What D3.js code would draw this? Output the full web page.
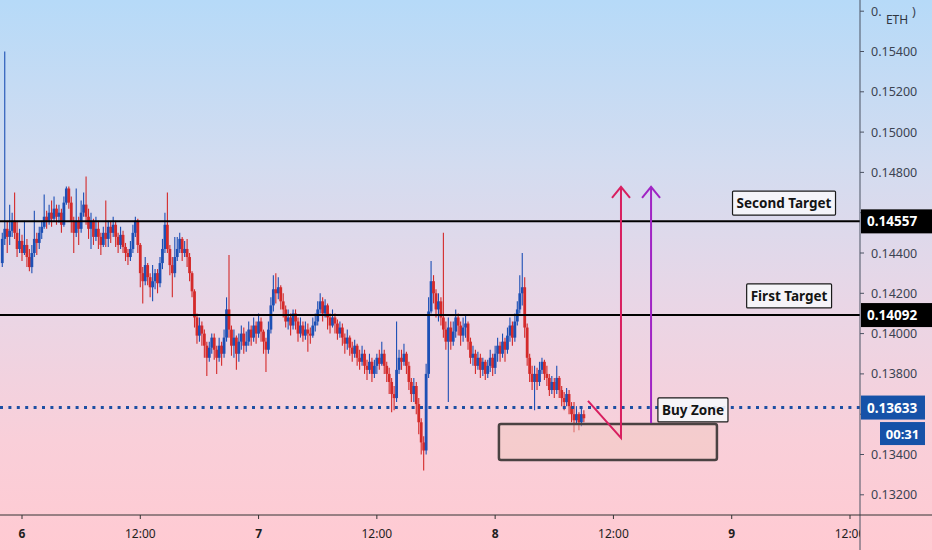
<!DOCTYPE html>
<html><head><meta charset="utf-8">
<script src="https://cdn.jsdelivr.net/npm/d3@7"></script>
<style>body{margin:0;overflow:hidden;background:#fff} svg{display:block}</style>
</head><body>
<svg id="c" width="932" height="550"></svg>
<script>
// ---------- DATA ----------
// 15-minute candles, prices in units of 0.00001
const candleStartUTC = [2021, 1, 5, 22, 0]; // first bar time
const candleMinutes = 15;
const firstOpenE5 = 14350;
const closeE5 = [14470,14520,14480,14510,14560,14500,14420,14460,14400,14440,14380,14330,14400,14470,14450,14500,14530,14580,14560,14600,
14570,14620,14580,14600,14540,14650,14720,14650,14560,14500,14560,14520,14600,14640,14580,14520,14560,14480,14520,14480,
14440,14500,14470,14530,14500,14540,14480,14440,14490,14430,14400,14380,14420,14500,14560,14440,14300,14260,14340,14280,
14230,14260,14300,14250,14350,14420,14540,14420,14340,14300,14380,14420,14470,14400,14420,14380,14300,14210,14080,13990,
14040,14000,13940,13880,13930,13980,13920,13880,13940,13900,13980,14120,14020,13940,13980,13900,13960,14000,13940,13960,
14020,13980,14040,14000,14060,14010,13960,13920,14020,14140,14220,14200,14230,14160,14120,14060,14080,14040,14100,14060,
14000,14040,13990,14020,14000,13990,14040,14060,14120,14160,14100,14140,14080,14040,14080,14050,14000,14030,13980,13950,
13980,13930,13900,13940,13880,13860,13900,13840,13820,13860,13800,13840,13880,13850,13900,13840,13800,13760,13700,13680,
13820,13880,13860,13900,13840,13760,13700,13740,13650,13560,13460,13420,13800,14110,14260,14200,14120,14160,14080,14020,
13960,14030,13960,14010,14080,14040,13990,14030,14050,13960,13880,13900,13840,13880,13820,13860,13800,13840,13880,13830,
13900,13940,13900,13960,13920,13990,14040,13980,14060,14120,14200,14230,14030,13880,13800,13760,13800,13760,13820,13860,
13800,13780,13720,13760,13720,13780,13720,13680,13660,13700,13640,13600,13570,13600,13560,13600,13580];
const highE5 = [14500,15400,14560,14640,14600,14700,14560,14520,14490,14560,14470,14420,14440,14610,14500,14530,14560,14690,14610,14640,
14660,14680,14640,14640,14620,14680,14730,14730,14680,14580,14720,14580,14660,14700,14780,14620,14600,14570,14580,14560,
14500,14530,14660,14560,14560,14580,14560,14500,14530,14510,14450,14420,14460,14540,14580,14570,14450,14330,14380,14350,
14300,14340,14320,14320,14380,14470,14600,14700,14440,14380,14480,14480,14500,14480,14460,14470,14400,14310,14220,14100,
14080,14060,14020,13960,13960,14000,14000,13940,13980,13960,14020,14180,14390,14040,14020,13990,14000,14040,14030,14010,
14060,14040,14080,14060,14100,14080,14020,13980,14060,14180,14290,14300,14280,14240,14200,14140,14120,14100,14120,14120,
14080,14080,14060,14060,14050,14030,14080,14100,14160,14200,14180,14170,14150,14100,14120,14100,14070,14060,14050,14000,
14020,13990,13960,13970,13950,13920,13940,13920,13870,13900,13880,13870,13900,13920,13960,13920,13860,13830,13780,13740,
14060,13920,13920,13950,13910,13860,13780,13780,13760,13680,13580,13490,13850,14180,14360,14290,14220,14200,14180,14500,
14060,14080,14060,14060,14120,14100,14060,14080,14090,14060,13980,13940,13920,13910,13900,13880,13870,13870,13920,13900,
13940,13980,13960,14000,13980,14030,14080,14060,14100,14160,14290,14400,14280,14050,13900,13840,13840,13830,13860,13880,
13870,13840,13800,13790,13780,13840,13790,13740,13710,13730,13720,13660,13660,13640,13610,13630,13620];
const lowE5 = [14330,14440,14400,14440,14480,14470,14380,14400,14360,14390,14330,14310,14300,14380,14390,14420,14470,14520,14520,14540,
14530,14560,14540,14550,14500,14530,14640,14620,14500,14400,14480,14440,14500,14580,14540,14470,14420,14440,14460,14420,
14390,14430,14430,14430,14450,14480,14430,14400,14420,14400,14360,14340,14360,14400,14480,14400,14230,14150,14240,14240,
14180,14160,14220,14200,14230,14320,14400,14400,14290,14180,14280,14360,14400,14360,14380,14330,14260,14180,14030,13950,
13960,13940,13880,13790,13860,13900,13870,13800,13860,13840,13880,13960,13980,13890,13880,13820,13860,13920,13900,13910,
13940,13940,13960,13950,13980,13960,13900,13810,13900,14000,14110,14150,14170,14120,14080,14030,14020,13990,14020,14020,
13960,13980,13960,13970,13910,13950,13980,14010,14040,14100,14060,14080,14020,14000,14030,14000,13970,13980,13940,13900,
13920,13890,13860,13880,13840,13820,13840,13800,13770,13800,13760,13780,13800,13820,13840,13800,13760,13700,13610,13620,
13660,13800,13820,13840,13800,13720,13660,13660,13600,13500,13400,13320,13400,13780,14100,14150,14080,14060,14040,13980,
13920,13660,13920,13940,13980,13990,13940,13960,13980,13920,13850,13840,13800,13820,13780,13790,13770,13780,13810,13790,
13800,13860,13860,13880,13860,13900,13960,13940,13960,14040,14100,14140,13980,13840,13760,13720,13620,13720,13740,13800,
13770,13740,13690,13700,13680,13700,13680,13640,13620,13640,13600,13560,13510,13550,13520,13540,13560];

// right-axis ticks (0.15600, 0.14600 and 0.13600 are hidden behind badges in the reference)
const yTickValues = [0.154,0.152,0.150,0.148,0.144,0.142,0.140,0.138,0.134,0.132];
const topTickValue = 0.156;
const xTickTimes = [[6,0],[6,12],[7,0],[7,12],[8,0],[8,12],[9,0],[9,12]];
const xTickLabels = ["6","12:00","7","12:00","8","12:00","9","12:00"];

const levels = [
  {price:0.14557, label:"0.14557", box:"#000000", width:2},
  {price:0.14092, label:"0.14092", box:"#000000", width:2},
  {price:0.13633, label:"0.13633", box:"#1652a8", width:3, dotted:true}
];
const countdownLabel = "00:31";
const symbolLabel = "ETH";
const noteLabels = [
  {text:"Second Target", day:9, h:5, m:18, price:0.14648},
  {text:"First Target",  day:9, h:5, m:49, price:0.14187},
  {text:"Buy Zone",      day:8, h:20, m:4, price:0.13621}
];
const buyZone = {d0:[8,0,23], d1:[8,22,30], top:0.13551, bottom:0.13373};
const zigzag = [{d:[8,9,25], p:0.13666},{d:[8,12,46], p:0.13482},{d:[8,12,46], p:0.14728}];
const purpleArrow = [{d:[8,15,49], p:0.13556},{d:[8,15,49], p:0.14728}];

// ---------- SCALES ----------
const svg = d3.select("#c");
const W = 932, H = 550, axisX = 860, axisY = 515;
const T = (d,h,m) => new Date(Date.UTC(2021,1,d,h,m||0));
const x = d3.scaleUtc().domain([T(6,0), T(9,12)]).range([22, 850]);
const y = d3.scaleLinear().domain([0.132, 0.154]).range([494.8, 51.5]);

// background gradient
const defs = svg.append("defs");
const g = defs.append("linearGradient").attr("id","bg").attr("x1",0).attr("y1",0).attr("x2",0).attr("y2",1);
[[0,"#b6daf8"],[0.3,"#d3dcf0"],[0.55,"#e9d6e6"],[0.8,"#f9cfd9"],[1,"#ffcad2"]].forEach(s=>
  g.append("stop").attr("offset",s[0]).attr("stop-color",s[1]));
svg.append("rect").attr("width",W).attr("height",H).attr("fill","url(#bg)");
defs.append("clipPath").attr("id","plot").append("rect").attr("width",axisX).attr("height",axisY);

// ---------- CANDLES ----------
const start = Date.UTC(...candleStartUTC);
const candles = closeE5.map((c,i)=>({
  t: new Date(start + i*candleMinutes*60000),
  o: (i===0? firstOpenE5 : closeE5[i-1])/1e5,
  c: c/1e5, h: highE5[i]/1e5, l: lowE5[i]/1e5
}));
const blue = "#1d50b5", red = "#d42a2a";
const cg = svg.append("g").attr("clip-path","url(#plot)");
const bars = cg.selectAll("g.k").data(candles).join("g");
bars.append("line")
  .attr("x1",d=>x(d.t)).attr("x2",d=>x(d.t))
  .attr("y1",d=>y(d.h)).attr("y2",d=>y(d.l))
  .attr("stroke",d=>d.c>=d.o?blue:red).attr("stroke-width",1.1);
bars.append("rect")
  .attr("x",d=>x(d.t)-1.4).attr("width",2.8)
  .attr("y",d=>y(Math.max(d.o,d.c)))
  .attr("height",d=>Math.max(1,Math.abs(y(d.o)-y(d.c))))
  .attr("fill",d=>d.c>=d.o?blue:red);

// ---------- LEVEL LINES ----------
levels.forEach(L=>{
  const ln = svg.append("line").attr("x1",0).attr("x2",axisX)
    .attr("y1",y(L.price)).attr("y2",y(L.price));
  if (L.dotted) ln.attr("stroke","#1d4fa3").attr("stroke-width",3).attr("stroke-dasharray","3,5.4");
  else ln.attr("stroke","#000").attr("stroke-width",L.width);
});

// buy zone box
svg.append("rect")
  .attr("x",x(T(...buyZone.d0))).attr("y",y(buyZone.top))
  .attr("width",x(T(...buyZone.d1))-x(T(...buyZone.d0)))
  .attr("height",y(buyZone.bottom)-y(buyZone.top))
  .attr("rx",2).attr("fill","rgba(240,200,190,0.45)")
  .attr("stroke","#4a4242").attr("stroke-width",2.5);

// arrows
const lineGen = d3.line().x(d=>x(T(...d.d))).y(d=>y(d.p));
function arrow(pts,color){
  svg.append("path").attr("d",lineGen(pts)).attr("fill","none")
    .attr("stroke",color).attr("stroke-width",2).attr("stroke-linejoin","miter");
  const tip = pts[pts.length-1], tx = x(T(...tip.d)), ty = y(tip.p);
  svg.append("path").attr("d",`M${tx-9},${ty+11}L${tx},${ty}L${tx+9},${ty+11}`)
    .attr("fill","none").attr("stroke",color).attr("stroke-width",2);
}
arrow(zigzag,"#d81f60");
arrow(purpleArrow,"#a024c4");

// note labels
noteLabels.forEach(n=>{
  const cx = x(T(n.day,n.h,n.m)), cy = y(n.price);
  const gg = svg.append("g");
  const tx = gg.append("text").attr("x",cx).attr("y",cy).attr("text-anchor","middle")
    .attr("dominant-baseline","central").attr("font-family","Noto Sans, sans-serif")
    .attr("font-size",13.5).attr("font-weight","bold").attr("fill","#141414").text(n.text);
  const bb = tx.node().getBBox();
  gg.insert("rect","text").attr("x",bb.x-4).attr("y",cy-12).attr("width",bb.width+8).attr("height",24)
    .attr("fill","rgba(246,246,250,0.92)").attr("stroke","#1a1a1a").attr("stroke-width",1.2).attr("rx",1);
});

// ---------- RIGHT AXIS ----------
const fmt = d3.format(".5f");
const ra = svg.append("g");
const axFont = "Noto Sans, sans-serif";
yTickValues.concat([topTickValue, 0.146, 0.136]).forEach(v=>{
  ra.append("line").attr("x1",axisX).attr("x2",axisX+4).attr("y1",y(v)).attr("y2",y(v))
    .attr("stroke","#4a5262");
});
yTickValues.forEach(v=>{
  ra.append("text").attr("x",871).attr("y",y(v)).attr("dominant-baseline","central")
    .attr("font-family",axFont).attr("font-size",12.5).attr("fill","#3b4352").text(fmt(v));
});
// top tick label, partly covered by the symbol badge: only its ends show
const topStr = fmt(topTickValue);
ra.append("text").attr("x",871).attr("y",y(topTickValue)).attr("dominant-baseline","central")
  .attr("font-family",axFont).attr("font-size",12.5).attr("fill","#3b4352").text(topStr.slice(0,2));
ra.append("text").attr("x",912).attr("y",y(topTickValue)).attr("dominant-baseline","central")
  .attr("font-family",axFont).attr("font-size",12.5).attr("fill","#3b4352").text(")");
ra.append("text").attr("x",897).attr("y",19).attr("text-anchor","middle").attr("dominant-baseline","central")
  .attr("font-family",axFont).attr("font-size",12).attr("fill","#2f3540").text(symbolLabel);

levels.forEach(L=>{
  const w = L.dotted ? 64 : 71;
  ra.append("rect").attr("x",861).attr("y",y(L.price)-12).attr("width",w).attr("height",24).attr("fill",L.box);
  ra.append("text").attr("x",867).attr("y",y(L.price)).attr("dominant-baseline","central")
    .attr("font-family",axFont).attr("font-size",13.5).attr("font-weight","bold")
    .attr("fill","#fff").text(L.label);
});
const cdY = y(levels[2].price)+26;
ra.append("rect").attr("x",880).attr("y",cdY-11.5).attr("width",45).attr("height",23).attr("fill","#1652a8");
ra.append("text").attr("x",902.5).attr("y",cdY).attr("text-anchor","middle").attr("dominant-baseline","central")
  .attr("font-family",axFont).attr("font-size",13).attr("font-weight","bold")
  .attr("fill","#fff").text(countdownLabel);

svg.append("line").attr("x1",axisX).attr("x2",axisX).attr("y1",0).attr("y2",H)
  .attr("stroke","#4a5262").attr("stroke-width",1);

// ---------- BOTTOM AXIS ----------
svg.append("line").attr("x1",0).attr("x2",W).attr("y1",axisY).attr("y2",axisY)
  .attr("stroke","#333").attr("stroke-width",1);
defs.append("clipPath").attr("id","plotx").append("rect").attr("width",axisX).attr("height",H);
const ba = svg.append("g").attr("clip-path","url(#plotx)");
xTickTimes.forEach((tt,i)=>{
  const px = x(T(tt[0],tt[1]));
  ba.append("line").attr("x1",px).attr("x2",px).attr("y1",axisY).attr("y2",axisY+4).attr("stroke","#333");
  ba.append("text").attr("x",px).attr("y",533).attr("text-anchor","middle").attr("dominant-baseline","central")
    .attr("font-family",axFont).attr("font-size",12)
    .attr("font-weight", tt[1]===0 ? "bold" : "normal").attr("fill","#1e1e1e").text(xTickLabels[i]);
});
</script>
</body></html>
